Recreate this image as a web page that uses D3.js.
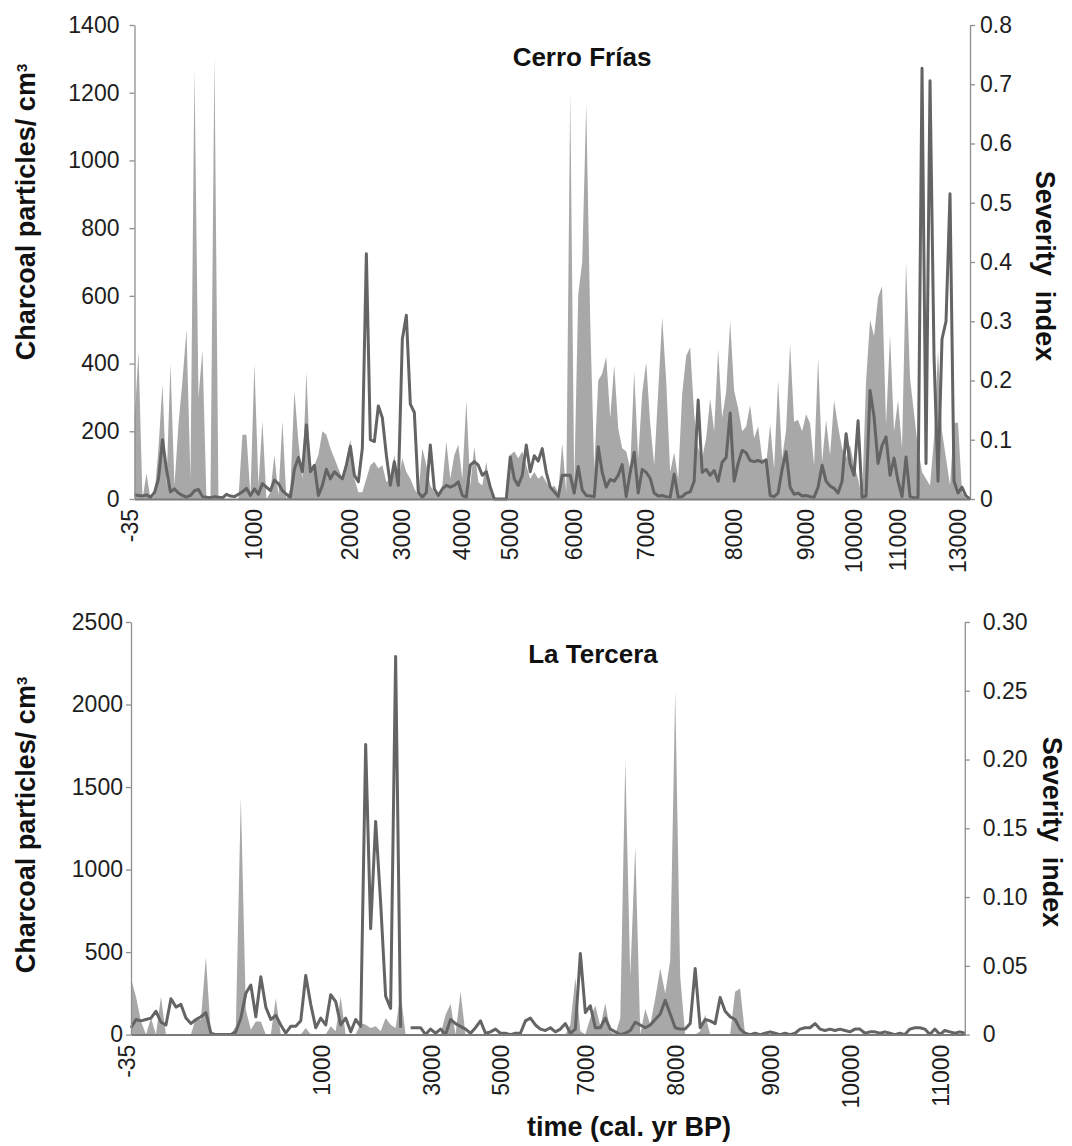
<!DOCTYPE html>
<html>
<head>
<meta charset="utf-8">
<script src="https://cdn.jsdelivr.net/npm/d3@7"></script>
<style>
  body { margin: 0; background: #fff; }
  svg text { font-family: "Liberation Sans", Arial, sans-serif; }
</style>
</head>
<body>
<svg id="chart" width="1072" height="1146"></svg>
<script>
// Cerro Frías - one value per sample, left to right
var cfCharcoal = [
  230, 435, 0, 75, 0, 10, 150, 340, 40, 400,
  40, 220, 350, 500, 60, 1270, 300, 440, 0, 0,
  1310, 0, 0, 0, 0, 0, 0, 190, 190, 10,
  400, 40, 230, 0, 20, 130, 10, 230, 0, 30,
  320, 170, 60, 375, 80, 100, 130, 200, 190, 150,
  120, 90, 60, 120, 175, 60, 20, 20, 60, 100,
  110, 90, 100, 50, 60, 130, 50, 120, 80, 60,
  30, 10, 150, 100, 40, 20, 10, 40, 170, 60,
  130, 160, 60, 290, 40, 155, 50, 40, 110, 20,
  0, 0, 0, 0, 130, 140, 120, 140, 100, 60,
  80, 60, 70, 50, 30, 40, 20, 165, 20, 1200,
  40, 605, 700, 1167, 525, 90, 350, 371, 420, 239,
  396, 209, 150, 140, 90, 376, 120, 312, 404, 224,
  100, 317, 537, 351, 80, 137, 60, 310, 422, 448,
  250, 150, 120, 180, 297, 200, 442, 240, 317, 524,
  320, 268, 200, 214, 278, 180, 214, 120, 100, 220,
  90, 351, 120, 204, 458, 228, 233, 200, 250, 224,
  100, 417, 110, 233, 130, 292, 214, 150, 120, 160,
  100, 60, 0, 347, 529, 481, 595, 629, 220, 484,
  200, 292, 150, 701, 356, 253, 150, 80, 60, 40,
  180, 438, 200, 120, 40, 225, 225, 20, 0, 0
];
var cfSeverity = [
  0.007, 0.006, 0.005, 0.007, 0.003, 0.011, 0.034, 0.100, 0.050, 0.012,
  0.017, 0.010, 0.006, 0.003, 0.006, 0.014, 0.016, 0.004, 0.003, 0.002,
  0.004, 0.003, 0.002, 0.008, 0.005, 0.004, 0.008, 0.012, 0.018, 0.006,
  0.017, 0.008, 0.026, 0.020, 0.014, 0.032, 0.026, 0.014, 0.008, 0.003,
  0.050, 0.070, 0.046, 0.125, 0.046, 0.057, 0.006, 0.023, 0.050, 0.034,
  0.046, 0.040, 0.034, 0.057, 0.089, 0.040, 0.029, 0.086, 0.414, 0.100,
  0.097, 0.157, 0.137, 0.074, 0.023, 0.063, 0.023, 0.270, 0.310, 0.160,
  0.146, 0.011, 0.003, 0.011, 0.091, 0.017, 0.006, 0.017, 0.023, 0.020,
  0.023, 0.029, 0.006, 0.003, 0.057, 0.063, 0.057, 0.040, 0.046, 0.020,
  0, 0, 0, 0, 0.071, 0.034, 0.023, 0.040, 0.091, 0.046,
  0.073, 0.064, 0.085, 0.045, 0.020, 0.012, 0.004, 0.040, 0.040, 0.040,
  0.010, 0.055, 0.015, 0.006, 0.005, 0.004, 0.088, 0.045, 0.020, 0.033,
  0.030, 0.040, 0.058, 0.004, 0.045, 0.079, 0.010, 0.050, 0.045, 0.035,
  0.010, 0.005, 0.006, 0.004, 0.003, 0.042, 0.003, 0.004, 0.010, 0.012,
  0.030, 0.167, 0.045, 0.050, 0.040, 0.048, 0.030, 0.062, 0.070, 0.145,
  0.030, 0.060, 0.082, 0.078, 0.065, 0.063, 0.065, 0.062, 0.066, 0.006,
  0.004, 0.010, 0.050, 0.080, 0.020, 0.008, 0.010, 0.005, 0.006, 0.004,
  0.003, 0.020, 0.057, 0.030, 0.022, 0.018, 0.010, 0.030, 0.110, 0.060,
  0.040, 0.132, 0.003, 0.005, 0.183, 0.139, 0.060, 0.090, 0.105, 0.040,
  0.069, 0.030, 0.004, 0.071, 0.004, 0.002, 0.002, 0.727, 0.060, 0.706,
  0.240, 0.030, 0.270, 0.300, 0.515, 0.030, 0.010, 0.020, 0.005, 0
];
var cfTickIdx = [0, 31, 55, 68, 83, 95, 111, 129, 151, 169, 181, 192, 207];
var cfTickLabels = ["-35", "1000", "2000", "3000", "4000", "5000", "6000", "7000", "8000", "9000", "10000", "11000", "13000"];
var cfCharcoalTicks = [0, 200, 400, 600, 800, 1000, 1200, 1400];
var cfSeverityTicks = [0, 0.1, 0.2, 0.3, 0.4, 0.5, 0.6, 0.7, 0.8];

// La Tercera
var ltCharcoal = [
  340, 230, 80, 0, 100, 0, 230, 0, 0, 0,
  0, 0, 0, 100, 90, 470, 0, 0, 0, 0,
  0, 50, 1440, 150, 30, 80, 80, 0, 0, 220,
  0, 0, 0, 0, 0, 40, 0, 0, 0, 0,
  50, 20, 230, 0, 0, 0, 70, 60, 40, 50,
  20, 100, 60, 40, 250, 0, 0, 0, 0, 0,
  0, 0, 0, 120, 185, 0, 260, 0, 0, 0,
  0, 0, 0, 0, 0, 0, 0, 0, 0, 0,
  0, 0, 0, 0, 0, 0, 0, 0, 60, 344,
  20, 0, 100, 177, 50, 190, 20, 0, 100, 1664,
  350, 1142, 0, 155, 60, 220, 400, 250, 450, 2085,
  350, 0, 0, 0, 20, 120, 0, 0, 0, 0,
  0, 260, 280, 0, 0, 0, 0, 0, 0, 0,
  0, 0, 0, 0, 0, 0, 0, 0, 0, 0,
  0, 0, 0, 0, 0, 0, 0, 0, 0, 0,
  0, 0, 0, 0, 0, 0, 0, 0, 0, 0,
  0, 0, 0, 0, 0, 0, 0, 0
];
var ltSeverity = [
  0.005, 0.011, 0.010, 0.011, 0.012, 0.017, 0.009, 0.007, 0.026, 0.020,
  0.022, 0.012, 0.008, 0.011, 0.013, 0.016, 0.001, 0, 0, 0,
  0, 0.002, 0.012, 0.030, 0.036, 0.013, 0.042, 0.020, 0.011, 0.014,
  0.007, 0.001, 0.006, 0.006, 0.010, 0.043, 0.022, 0.005, 0.012, 0.007,
  0.029, 0.024, 0.007, 0.012, 0.002, 0.011, 0.006, 0.211, 0.077, 0.155,
  0.096, 0.028, 0.019, 0.275, 0.005, null, 0.005, 0.005, 0.005, 0.000,
  0.004, 0.001, 0.004, 0.000, 0.011, 0.008, 0.006, 0.004, 0.001, 0.005,
  0.010, 0.001, 0.002, 0.004, 0.001, 0.001, 0.000, 0.001, 0.001, 0.010,
  0.012, 0.007, 0.004, 0.003, 0.005, 0.002, 0.004, 0.008, 0.001, 0.004,
  0.059, 0.016, 0.021, 0.005, 0.005, 0.012, 0.004, 0.002, 0.000, 0.001,
  0.003, 0.009, 0.007, 0.005, 0.007, 0.011, 0.015, 0.025, 0.015, 0.005,
  0.004, 0.004, 0.008, 0.048, 0.005, 0.011, 0.010, 0.008, 0.027, 0.017,
  0.013, 0.011, 0.004, 0.001, 0.000, 0.001, 0.000, 0.001, 0.002, 0.001,
  0.000, 0.001, 0.000, 0.001, 0.004, 0.005, 0.005, 0.008, 0.004, 0.003,
  0.004, 0.003, 0.004, 0.003, 0.002, 0.004, 0.004, 0.001, 0.002, 0.002,
  0.001, 0.002, 0.001, 0.000, 0.001, 0.000, 0.004, 0.005, 0.005, 0.004,
  0.000, 0.004, 0.000, 0.003, 0.002, 0.001, 0.002, 0.001
];
var ltTickIdx = [0, 39, 61, 75, 92, 110, 129, 145, 163];
var ltTickLabels = ["-35", "1000", "3000", "5000", "7000", "8000", "9000", "10000", "11000"];
var ltCharcoalTicks = [0, 500, 1000, 1500, 2000, 2500];
var ltSeverityTicks = [0, 0.05, 0.10, 0.15, 0.20, 0.25, 0.30];

var svg = d3.select("#chart");

var drawPanel = function(p) {
  var g = svg.append("g");
  var x = d3.scaleLinear().domain([0, p.charcoal.length - 1]).range([p.left, p.right]);
  var yC = d3.scaleLinear().domain([0, p.cTicks[p.cTicks.length - 1]]).range([p.bottom, p.top]);
  var yS = d3.scaleLinear().domain([0, p.sTicks[p.sTicks.length - 1]]).range([p.bottom, p.top]);

  // charcoal as grey area
  var area = d3.area()
    .x(function(d, i) { return x(i); })
    .y0(yC(0))
    .y1(function(d) { return yC(d); });
  g.append("path").datum(p.charcoal)
    .attr("d", area)
    .attr("fill", "#a8a8a8");

  // severity as dark line on the right scale
  var line = d3.line()
    .defined(function(d) { return d !== null; })
    .x(function(d, i) { return x(i); })
    .y(function(d) { return yS(d); });
  g.append("path").datum(p.severity)
    .attr("d", line)
    .attr("fill", "none")
    .attr("stroke", "#646464")
    .attr("stroke-width", 3)
    .attr("stroke-linejoin", "round");

  var leftAxis = g.append("g")
    .attr("transform", "translate(" + p.left + ",0)")
    .call(d3.axisLeft(yC).tickValues(p.cTicks).tickSize(5).tickSizeOuter(0)
      .tickPadding(p.leftPad).tickFormat(d3.format("d")));
  var rightAxis = g.append("g")
    .attr("transform", "translate(" + p.right + ",0)")
    .call(d3.axisRight(yS).tickValues(p.sTicks).tickSize(5).tickSizeOuter(0)
      .tickPadding(p.rightPad).tickFormat(p.sFormat));
  var bottomAxis = g.append("g")
    .attr("transform", "translate(0," + p.bottom + ")")
    .call(d3.axisBottom(x).tickValues(p.tickIdx).tickSize(0).tickSizeOuter(0)
      .tickFormat(function(d, i) { return p.tickLabels[i]; }));
  bottomAxis.selectAll("text")
    .attr("transform", "rotate(-90)")
    .attr("x", -10)
    .attr("y", 0)
    .attr("dy", "0.15em")
    .style("text-anchor", "end");

  [leftAxis, rightAxis, bottomAxis].forEach(function(a) {
    a.attr("font-size", 23).attr("font-family", null);
    a.selectAll("text").attr("fill", "#1e1e1e");
    a.selectAll(".domain, .tick line").attr("stroke", "#8f8f8f").attr("stroke-width", 1.3);
  });
  bottomAxis.select(".domain").attr("stroke", "#7a7a7a").attr("stroke-width", 2);

  // titles
  g.append("text")
    .attr("x", p.titleX).attr("y", p.titleY)
    .attr("text-anchor", "middle")
    .attr("font-weight", "bold").attr("font-size", 26)
    .attr("fill", "#111")
    .text(p.title);

  var yl = g.append("text")
    .attr("transform", "translate(" + p.yTitleX + "," + p.yTitleY + ") rotate(-90)")
    .attr("text-anchor", "middle")
    .attr("dy", "0.35em")
    .attr("font-weight", "bold").attr("font-size", 27)
    .attr("fill", "#111");
  yl.append("tspan").text("Charcoal particles/ cm");
  yl.append("tspan").attr("dy", "-0.55em").attr("font-size", 15).text("3");

  g.append("text")
    .attr("transform", "translate(" + p.y2TitleX + "," + p.y2TitleY + ") rotate(90)")
    .attr("text-anchor", "middle")
    .attr("dy", "0.35em")
    .attr("font-weight", "bold").attr("font-size", 27)
    .attr("fill", "#111")
    .style("white-space", "pre")
    .text("Severity  index");
};

drawPanel({
  charcoal: cfCharcoal, severity: cfSeverity,
  tickIdx: cfTickIdx, tickLabels: cfTickLabels,
  cTicks: cfCharcoalTicks, sTicks: cfSeverityTicks,
  sFormat: function(d) { return d === 0 ? "0" : d3.format(".1f")(d); },
  left: 134.5, right: 970, top: 25, bottom: 499,
  leftPad: 10, rightPad: 5,
  title: "Cerro Frías", titleX: 582, titleY: 66,
  yTitleX: 26, yTitleY: 212, y2TitleX: 1045, y2TitleY: 266
});

drawPanel({
  charcoal: ltCharcoal, severity: ltSeverity,
  tickIdx: ltTickIdx, tickLabels: ltTickLabels,
  cTicks: ltCharcoalTicks, sTicks: ltSeverityTicks,
  sFormat: function(d) { return d === 0 ? "0" : d3.format(".2f")(d); },
  left: 131, right: 964.8, top: 622, bottom: 1034.6,
  leftPad: 3, rightPad: 13,
  title: "La Tercera", titleX: 593, titleY: 663,
  yTitleX: 26, yTitleY: 825, y2TitleX: 1052, y2TitleY: 832
});

svg.append("text")
  .attr("x", 629).attr("y", 1136)
  .attr("text-anchor", "middle")
  .attr("font-weight", "bold").attr("font-size", 27)
  .attr("fill", "#111")
  .text("time (cal. yr BP)");
</script>
</body>
</html>
